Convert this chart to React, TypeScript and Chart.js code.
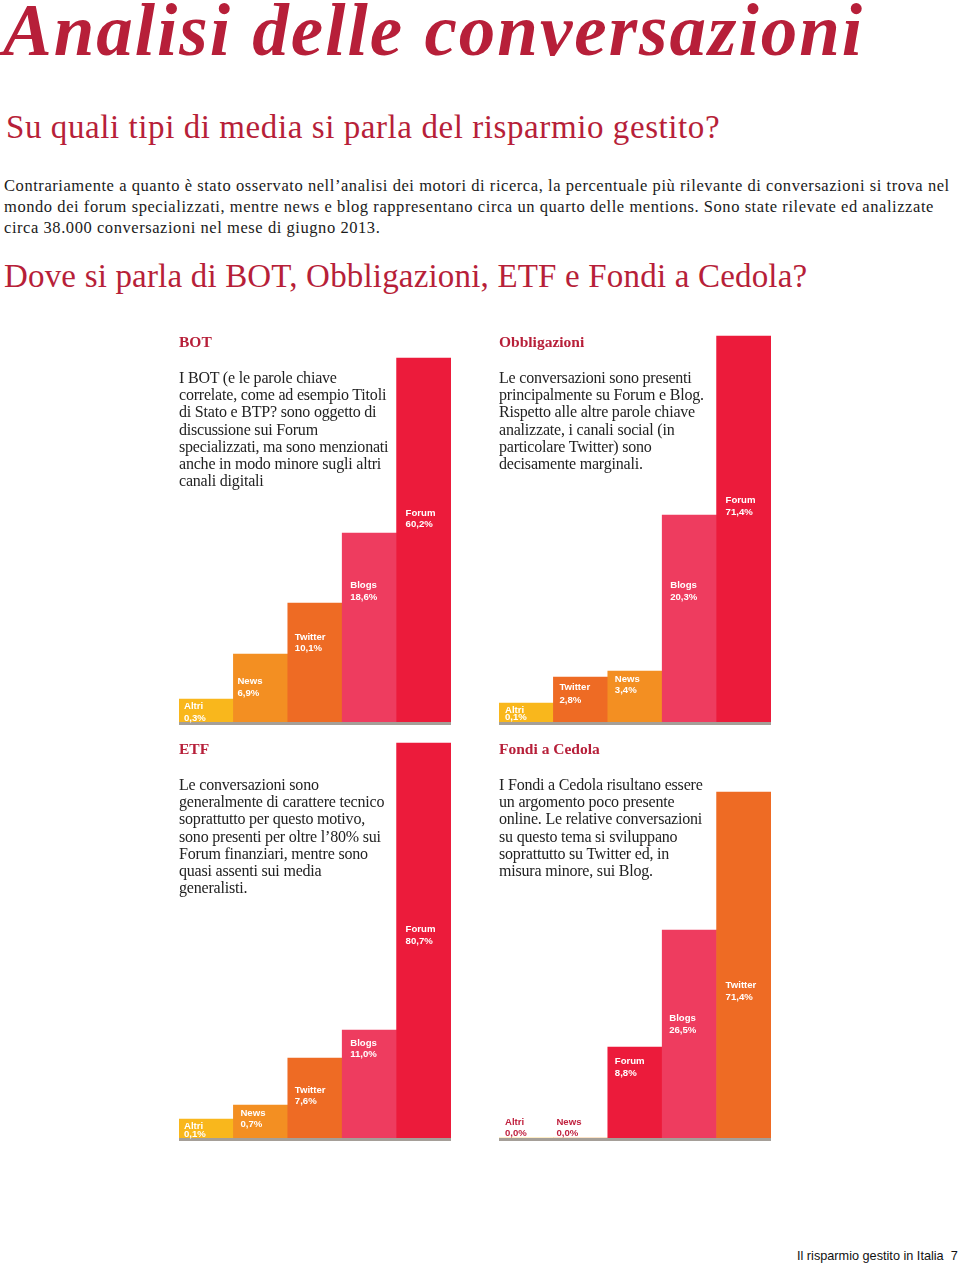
import React, { useEffect, useRef } from "react";
import { Chart, registerables } from "chart.js";

Chart.register(...registerables);

// ---------- DATA ----------
// BOT
const botCategories = ["Altri", "News", "Twitter", "Blogs", "Forum"];
const botShares = [0.3, 6.9, 10.1, 18.6, 60.2];
const botBarHeights = [23, 68, 119, 189, 364];

// Obbligazioni
const obbCategories = ["Altri", "Twitter", "News", "Blogs", "Forum"];
const obbShares = [0.1, 2.8, 3.4, 20.3, 71.4];
const obbBarHeights = [19, 45, 51, 207, 386];

// ETF
const etfCategories = ["Altri", "News", "Twitter", "Blogs", "Forum"];
const etfShares = [0.1, 0.7, 7.6, 11.0, 80.7];
const etfBarHeights = [19, 33, 80, 108, 395];

// Fondi a Cedola
const cedCategories = ["Altri", "News", "Forum", "Blogs", "Twitter"];
const cedShares = [0.0, 0.0, 8.8, 26.5, 71.4];
const cedBarHeights = [0, 0, 91, 208, 346];

// ---------- STYLE / LAYOUT ----------
const RED_TITLE = "#B71F39";
const channelColors: Record<string, string> = {
  Altri: "#F9B71C",
  News: "#F38F22",
  Twitter: "#EE6B24",
  Blogs: "#EE3C5F",
  Forum: "#EC1B3B",
};
const SERIF = "'Liberation Serif', 'Times New Roman', serif";
const SANS = "'Liberation Sans', Arial, sans-serif";
const Y_MAX = 400;
const BASE_LINE = 3;

type PanelProps = {
  left: number;
  baseline: number;
  titleTop: number;
  textTop: number;
  title: string;
  text: string;
  categories: string[];
  shares: number[];
  heights: number[];
  labelLevels: number[];
  labelGaps: number[];
  labelDx: number[];
  zeroLabelColor?: string;
};

const fmt = (v: number) => v.toFixed(1).replace(".", ",") + "%";

function BarPanel(p: PanelProps) {
  const ref = useRef<HTMLCanvasElement | null>(null);
  useEffect(() => {
    if (!ref.current) return;
    const labelPlugin = {
      id: "stepLabels",
      afterDatasetsDraw(chart: any) {
        const ctx = chart.ctx;
        const xs = chart.scales.x;
        const ys = chart.scales.y;
        const meta = chart.getDatasetMeta(0);
        ctx.save();
        ctx.font = `bold 9.6px ${SANS}`;
        ctx.textBaseline = "middle";
        ctx.textAlign = "left";
        p.categories.forEach((c, i) => {
          const bar = meta.data[i];
          const half = bar.width / 2;
          const x = xs.getPixelForValue(i) - half + p.labelDx[i];
          const y = ys.getPixelForValue(p.labelLevels[i]);
          ctx.fillStyle = p.heights[i] > 0 ? "#FFFFFF" : p.zeroLabelColor || "#C0223F";
          ctx.fillText(c, x, y);
          ctx.fillText(fmt(p.shares[i]), x, y + p.labelGaps[i]);
        });
        ctx.restore();
      },
    };
    const basePlugin = {
      id: "baseLine",
      afterDatasetsDraw(chart: any) {
        const ctx = chart.ctx;
        const ys = chart.scales.y;
        const area = chart.chartArea;
        const y0 = ys.getPixelForValue(0);
        const y1 = ys.getPixelForValue(-BASE_LINE);
        ctx.save();
        ctx.fillStyle = "#A59F98";
        ctx.fillRect(area.left, y0, area.right - area.left, y1 - y0);
        ctx.restore();
      },
    };
    const chart = new Chart(ref.current, {
      type: "bar",
      data: {
        labels: p.categories,
        datasets: [
          {
            data: p.heights,
            backgroundColor: p.categories.map((c) => channelColors[c]),
            borderWidth: 0,
            categoryPercentage: 1,
            barPercentage: 1,
          },
        ],
      },
      options: {
        animation: false,
        responsive: false,
        maintainAspectRatio: false,
        layout: { padding: 0 },
        plugins: { legend: { display: false }, tooltip: { enabled: false } },
        scales: {
          x: { display: false },
          y: { display: false, min: -BASE_LINE, max: Y_MAX },
        },
      },
      plugins: [basePlugin, labelPlugin],
    });
    return () => chart.destroy();
  }, []);

  return (
    <>
      <canvas
        ref={ref}
        width={272}
        height={Y_MAX + BASE_LINE}
        style={{
          position: "absolute",
          left: p.left,
          top: p.baseline - Y_MAX,
          width: 272,
          height: Y_MAX + BASE_LINE,
        }}
      />
      <div
        style={{
          position: "absolute",
          left: p.left,
          top: p.titleTop,
          font: `bold 15.5px/18px ${SERIF}`,
          color: RED_TITLE,
          whiteSpace: "pre",
        }}
      >
        {p.title}
      </div>
      <div
        style={{
          position: "absolute",
          left: p.left,
          top: p.textTop,
          font: `16px/17.2px ${SERIF}`,
          letterSpacing: "-0.2px",
          color: "#222",
          whiteSpace: "pre",
        }}
      >
        {p.text}
      </div>
    </>
  );
}

export default function App() {
  return (
    <div
      style={{
        position: "absolute",
        left: 0,
        top: 0,
        width: 960,
        height: 1266,
        background: "#fff",
        overflow: "hidden",
      }}
    >
      <div
        style={{
          position: "absolute",
          left: 3,
          top: -9,
          font: `italic bold 73px/80px ${SERIF}`,
          letterSpacing: "2px",
          color: RED_TITLE,
          whiteSpace: "pre",
        }}
      >
        Analisi delle conversazioni
      </div>
      <div
        style={{
          position: "absolute",
          left: 6,
          top: 107,
          font: `33px/40px ${SERIF}`,
          letterSpacing: "0.58px",
          color: RED_TITLE,
          whiteSpace: "pre",
        }}
      >
        Su quali tipi di media si parla del risparmio gestito?
      </div>
      <div
        style={{
          position: "absolute",
          left: 4,
          top: 175,
          font: `16.5px/21px ${SERIF}`,
          letterSpacing: "0.56px",
          color: "#1a1a1a",
          whiteSpace: "pre",
        }}
      >
        {"Contrariamente a quanto è stato osservato nell’analisi dei motori di ricerca, la percentuale più rilevante di conversazioni si trova nel\nmondo dei forum specializzati, mentre news e blog rappresentano circa un quarto delle mentions. Sono state rilevate ed analizzate\ncirca 38.000 conversazioni nel mese di giugno 2013."}
      </div>
      <div
        style={{
          position: "absolute",
          left: 4,
          top: 256,
          font: `33px/40px ${SERIF}`,
          letterSpacing: "0.18px",
          color: RED_TITLE,
          whiteSpace: "pre",
        }}
      >
        Dove si parla di BOT, Obbligazioni, ETF e Fondi a Cedola?
      </div>

      <BarPanel
        left={179}
        baseline={722}
        titleTop={333}
        textTop={369}
        title="BOT"
        text={"I BOT (e le parole chiave\ncorrelate, come ad esempio Titoli\ndi Stato e BTP? sono oggetto di\ndiscussione sui Forum\nspecializzati, ma sono menzionati\nanche in modo minore sugli altri\ncanali digitali"}
        categories={botCategories}
        shares={botShares}
        heights={botBarHeights}
        labelLevels={[15.3, 40.3, 84.7, 136.3, 208.7]}
        labelGaps={[11.6, 11.3, 11.4, 11.4, 11.4]}
        labelDx={[5, 4, 7, 8, 9]}
      />
      <BarPanel
        left={499}
        baseline={722}
        titleTop={333}
        textTop={369}
        title="Obbligazioni"
        text={"Le conversazioni sono presenti\nprincipalmente su Forum e Blog.\nRispetto alle altre parole chiave\nanalizzate, i canali social (in\nparticolare Twitter) sono\ndecisamente marginali."}
        categories={obbCategories}
        shares={obbShares}
        heights={obbBarHeights}
        labelLevels={[12, 34.3, 43, 136.3, 221.3]}
        labelGaps={[7.3, 12.3, 11.7, 11.6, 12]}
        labelDx={[6, 6, 7, 8, 9]}
      />
      <BarPanel
        left={179}
        baseline={1138}
        titleTop={740}
        textTop={776}
        title="ETF"
        text={"Le conversazioni sono\ngeneralmente di carattere tecnico\nsoprattutto per questo motivo,\nsono presenti per oltre l’80% sui\nForum finanziari, mentre sono\nquasi assenti sui media\ngeneralisti."}
        categories={etfCategories}
        shares={etfShares}
        heights={etfBarHeights}
        labelLevels={[12, 25, 48, 95, 209]}
        labelGaps={[8, 11, 11, 11, 12]}
        labelDx={[5, 7, 7, 8, 9]}
      />
      <BarPanel
        left={499}
        baseline={1138}
        titleTop={740}
        textTop={776}
        title="Fondi a Cedola"
        text={"I Fondi a Cedola risultano essere\nun argomento poco presente\nonline. Le relative conversazioni\nsu questo tema si sviluppano\nsoprattutto su Twitter ed, in\nmisura minore, sui Blog."}
        categories={cedCategories}
        shares={cedShares}
        heights={cedBarHeights}
        labelLevels={[16, 16, 77, 120, 153]}
        labelGaps={[11.3, 11.3, 12, 12, 12]}
        labelDx={[6, 3, 7, 7, 9]}
        zeroLabelColor="#C0223F"
      />

      <div
        style={{
          position: "absolute",
          left: 797,
          top: 1248,
          font: `12.7px/16px ${SANS}`,
          color: "#111",
          whiteSpace: "pre",
        }}
      >
        {"Il risparmio gestito in Italia  7"}
      </div>
    </div>
  );
}
